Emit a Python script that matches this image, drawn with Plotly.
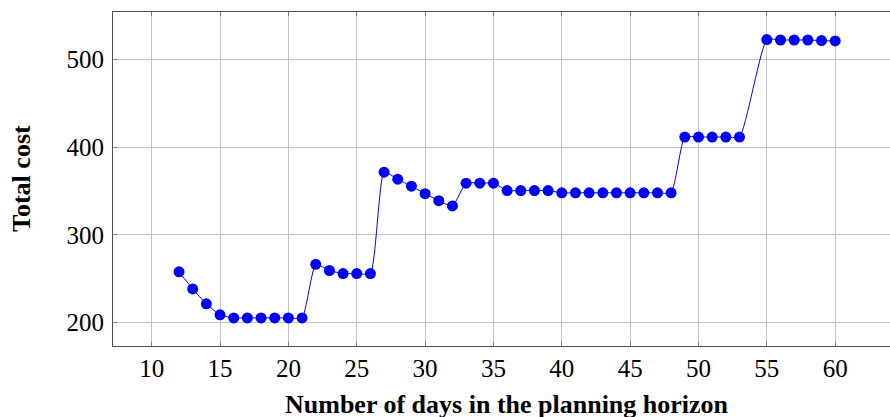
import plotly.graph_objects as go

days = [12, 13, 14, 15, 16, 17, 18, 19, 20, 21,
        22, 23, 24, 25, 26, 27, 28, 29, 30, 31, 32, 33, 34, 35,
        36, 37, 38, 39, 40, 41, 42, 43, 44, 45, 46, 47, 48,
        49, 50, 51, 52, 53, 55, 56, 57, 58, 59, 60]
total_cost = [258, 238.5, 221.5, 209, 205.5, 205.5, 205.5, 205.5, 205.5, 205.5,
              266.5, 259.5, 256, 256, 256, 371.5, 363.5, 355.5, 347, 339, 333, 359, 359, 359,
              350.5, 350.5, 350.5, 350.5, 348, 348, 348, 348, 348, 348, 348, 348, 348,
              411.5, 411.5, 411.5, 411.5, 411.5, 522.5, 522, 522, 522, 521.3, 521]
x_ticks = [10, 15, 20, 25, 30, 35, 40, 45, 50, 55, 60]
y_ticks = [200, 300, 400, 500]
x_title = "Number of days in the planning horizon"
y_title = "Total cost"

font_family = "Liberation Serif, DejaVu Serif, serif"

fig = go.Figure(go.Scatter(
    x=days, y=total_cost, mode="lines+markers",
    line=dict(color="#0000ff", width=1, shape="spline", smoothing=0.5),
    marker=dict(color="#0000ff", size=11),
    showlegend=False,
))

# the original axis box runs past the right edge of the 890px window
W, H = 900, 417
L, R, T, B = 113, 0, 12, H - 346
pw, ph = W - L - R, H - T - B

fig.update_layout(
    width=W, height=H,
    margin=dict(l=L, r=R, t=T, b=B, autoexpand=False),
    paper_bgcolor="white", plot_bgcolor="white",
    font=dict(family=font_family, size=25, color="black"),
)
fig.update_xaxes(
    range=[7.17, 7.17 + pw / 13.67], tickvals=x_ticks, ticktext=[str(v) for v in x_ticks],
    showgrid=True, gridcolor="#c4c4c4", gridwidth=1,
    showline=True, linecolor="#505050", linewidth=1, mirror="ticks",
    ticks="inside", ticklen=4, tickcolor="#808080",
    zeroline=False, automargin=False,
)
fig.update_yaxes(
    range=[173.5, 553.9], tickvals=y_ticks, ticktext=[str(v) for v in y_ticks],
    showgrid=True, gridcolor="#c4c4c4", gridwidth=1,
    showline=True, linecolor="#505050", linewidth=1, mirror=True,
    ticks="inside", ticklen=4, tickcolor="#808080", ticklabelstandoff=3,
    zeroline=False, automargin=False,
)
fig.add_annotation(
    text="<b>" + x_title + "</b>", xref="paper", yref="paper",
    x=(506.5 - L) / pw, y=-(404 - 346) / ph,
    xanchor="center", yanchor="middle", showarrow=False,
    font=dict(size=26),
)
fig.add_annotation(
    text="<b>" + y_title + "</b>", xref="paper", yref="paper",
    x=(21 - L) / pw, y=0.5, textangle=-90,
    xanchor="center", yanchor="middle", showarrow=False,
    font=dict(size=26),
)

fig.write_html(
    "out.html",
    config={"displayModeBar": False},
    post_script="document.body.style.margin='0';document.documentElement.style.overflow='hidden';document.body.style.overflow='hidden';",
)
